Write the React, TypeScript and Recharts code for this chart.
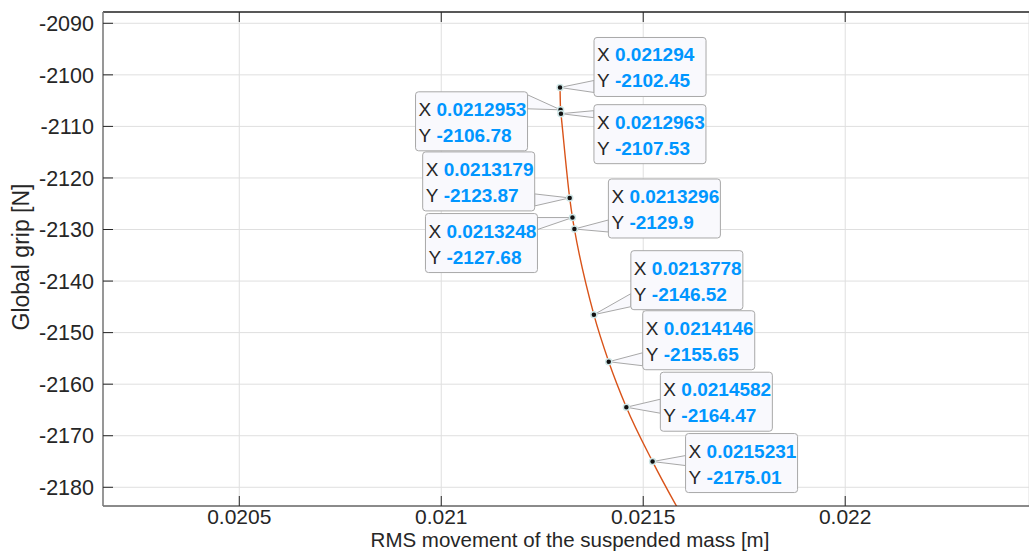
import {
  CartesianGrid,
  ComposedChart,
  Label,
  Line,
  ReferenceLine,
  Scatter,
  XAxis,
  YAxis,
} from "recharts";

// MATLAB-like look
const FONT = '"Liberation Sans", Arial, Helvetica, sans-serif';
const COLOR_AXIS = "#262626";
const COLOR_AXIS_LEFT = "#7a7a7a";
const COLOR_GRID = "#dfdfdf";
const COLOR_LINE = "#d95319";
const COLOR_TIP_VALUE = "#0096ff";
const COLOR_TIP_BG = "#f9f9fd";
const COLOR_TIP_EDGE = "#a8a8a8";

// data
const X_TICKS = [0.0205, 0.021, 0.0215, 0.022];
const Y_TICKS = [-2180, -2170, -2160, -2150, -2140, -2130, -2120, -2110, -2100, -2090];
const X_DOMAIN = [0.0201626, 0.022455];
const Y_DOMAIN = [-2183.63, -2087.81];

const LINE_X = [
  0.021294, 0.0212953, 0.0212963, 0.0213179, 0.0213248, 0.0213296, 0.0213778,
  0.0214146, 0.0214582, 0.0215231, 0.021599,
];
const LINE_Y = [
  -2102.45, -2106.78, -2107.53, -2123.87, -2127.68, -2129.9, -2146.52,
  -2155.65, -2164.47, -2175.01, -2186,
];

const TIP_X = [
  0.021294, 0.0212953, 0.0212963, 0.0213179, 0.0213248, 0.0213296, 0.0213778,
  0.0214146, 0.0214582, 0.0215231,
];
const TIP_Y = [
  -2102.45, -2106.78, -2107.53, -2123.87, -2127.68, -2129.9, -2146.52,
  -2155.65, -2164.47, -2175.01,
];

// datatip box placement relative to its point: [dx, dy, wedge y1, wedge y2]
const TIP_BOXES = [
  [34, -50, 43, 55],
  [-145, -18, 3, 17],
  [33, -9, 6, 13],
  [-147, -46, 42, 54],
  [-147, -4, 4, 16],
  [34, -50, 41, 53],
  [37, -64, 43, 56],
  [34, -51, 42, 55],
  [34, -35, 27, 41],
  [33, -28, 22, 32],
];
const TIP_W = 112;
const TIP_H = 59;
const TIP_FONT = 19;

const PLOT_TOP = 12;
const TICK_LEN = 10;

const lineData = LINE_X.map((x, i) => ({ x, y: LINE_Y[i] }));
const tipData = TIP_X.map((x, i) => ({ x, y: TIP_Y[i], i }));

function XTick({ x, y, payload }: any) {
  return (
    <g>
      <line x1={x} y1={y} x2={x} y2={y - TICK_LEN} stroke={COLOR_AXIS} />
      <line x1={x} y1={PLOT_TOP} x2={x} y2={PLOT_TOP + TICK_LEN} stroke={COLOR_AXIS} />
      <text
        x={x}
        y={y + 18}
        textAnchor="middle"
        fontSize={21}
        fontFamily={FONT}
        fill={COLOR_AXIS}
      >
        {String(payload.value)}
      </text>
    </g>
  );
}

function YTick({ x, y, payload }: any) {
  return (
    <g>
      <line x1={x} y1={y} x2={x + TICK_LEN} y2={y} stroke={COLOR_AXIS} />
      <text
        x={x - 9}
        y={y + 7.7}
        textAnchor="end"
        fontSize={21.5}
        fontFamily={FONT}
        fill={COLOR_AXIS}
      >
        {String(payload.value)}
      </text>
    </g>
  );
}

function DataTip(props: any) {
  const { cx, cy, payload } = props;
  const [dx, dy, a1, a2] = TIP_BOXES[payload.i];
  const left = cx + dx;
  const top = cy + dy;
  const ax = dx > 0 ? left : left + TIP_W;
  return (
    <g>
      <polygon
        points={`${cx},${cy} ${ax},${top + a1} ${ax},${top + a2}`}
        fill={COLOR_TIP_BG}
        stroke={COLOR_TIP_EDGE}
      />
      <rect
        x={left}
        y={top}
        width={TIP_W}
        height={TIP_H}
        rx={3}
        fill={COLOR_TIP_BG}
        stroke={COLOR_TIP_EDGE}
      />
      <text x={left + 3} y={top + 24} fontSize={TIP_FONT} fontFamily={FONT} fill={COLOR_AXIS}>
        X
      </text>
      <text
        x={left + 21}
        y={top + 24}
        fontSize={TIP_FONT}
        fontFamily={FONT}
        fontWeight="bold"
        fill={COLOR_TIP_VALUE}
      >
        {String(payload.x)}
      </text>
      <text x={left + 3} y={top + 50} fontSize={TIP_FONT} fontFamily={FONT} fill={COLOR_AXIS}>
        Y
      </text>
      <text
        x={left + 21}
        y={top + 50}
        fontSize={TIP_FONT}
        fontFamily={FONT}
        fontWeight="bold"
        fill={COLOR_TIP_VALUE}
      >
        {String(payload.y)}
      </text>
      <circle cx={cx} cy={cy} r={3} fill="#111" stroke="#cfe6e6" strokeWidth={1.5} />
    </g>
  );
}

export default function App() {
  return (
    <div style={{ position: "absolute", left: 0, top: 0, background: "#fff" }}>
      <ComposedChart
        width={1029}
        height={552}
        margin={{ top: PLOT_TOP, right: 0, left: 8, bottom: 0 }}
      >
        <CartesianGrid stroke={COLOR_GRID} />
        <XAxis
          type="number"
          dataKey="x"
          domain={X_DOMAIN}
          allowDataOverflow
          ticks={X_TICKS}
          interval={0}
          height={46}
          tickSize={0}
          tickMargin={0}
          tickLine={false}
          tick={XTick}
          axisLine={{ stroke: COLOR_AXIS }}
        >
          <Label
            content={({ viewBox }: any) => (
              <text
                x={viewBox.x + viewBox.width / 2 + 4}
                y={viewBox.y + 41}
                textAnchor="middle"
                fontSize={20.5}
                fontFamily={FONT}
                fill={COLOR_AXIS}
              >
                RMS movement of the suspended mass [m]
              </text>
            )}
          />
        </XAxis>
        <YAxis
          type="number"
          dataKey="y"
          domain={Y_DOMAIN}
          allowDataOverflow
          ticks={Y_TICKS}
          interval={0}
          width={95}
          tickSize={0}
          tickMargin={0}
          tickLine={false}
          tick={YTick}
          axisLine={{ stroke: COLOR_AXIS_LEFT, strokeWidth: 1.5 }}
        >
          <Label
            content={() => (
              <text
                x={28.5}
                y={257}
                transform="rotate(-90 28.5 257)"
                textAnchor="middle"
                fontSize={23}
                fontFamily={FONT}
                fill={COLOR_AXIS}
              >
                Global grip [N]
              </text>
            )}
          />
        </YAxis>
        <ReferenceLine y={Y_DOMAIN[1]} stroke={COLOR_AXIS} strokeWidth={1.5} />
        <Line
          data={lineData}
          dataKey="y"
          type="monotone"
          stroke={COLOR_LINE}
          strokeWidth={1.4}
          dot={false}
          activeDot={false}
          isAnimationActive={false}
        />
        <Scatter
          data={tipData}
          dataKey="y"
          shape={DataTip}
          isAnimationActive={false}
        />
      </ComposedChart>
    </div>
  );
}
